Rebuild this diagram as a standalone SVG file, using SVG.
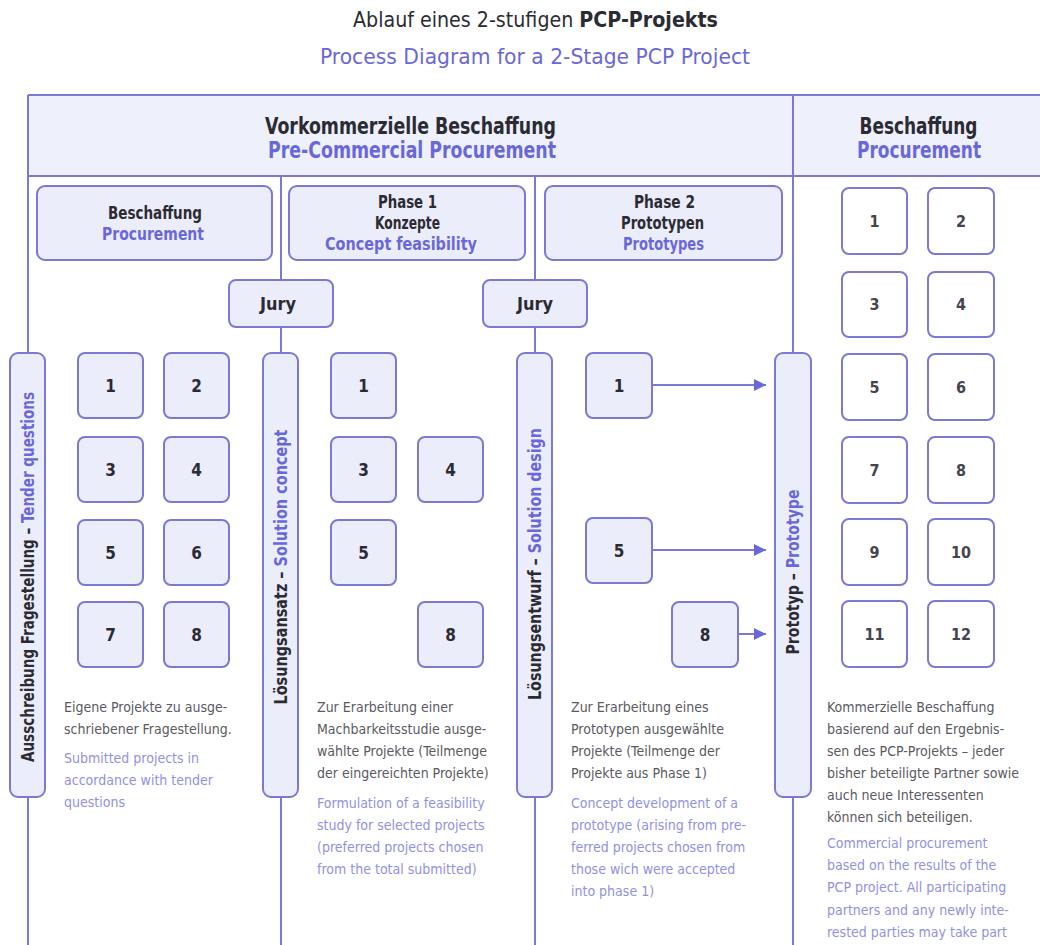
<svg xmlns="http://www.w3.org/2000/svg" width="1040" height="945" viewBox="0 0 1040 945">
<defs>
<style>
.h{font-family:"Liberation Sans Narrow","DejaVu Sans Condensed","Liberation Sans",sans-serif;font-weight:bold}
.n{font-weight:normal}
.dk{fill:#2b2b33}
.bl{fill:#6a68d8}
.box{fill:#ecedfa;stroke:#7b79d4;stroke-width:2}
.wbox{fill:#ffffff;stroke:#7b79d4;stroke-width:2}
.ln{stroke:#7b79d4;stroke-width:2;fill:none}
.num{font-family:"Liberation Sans Narrow","DejaVu Sans Condensed","Liberation Sans",sans-serif;font-weight:bold;font-size:17px;fill:#2b2b33;text-anchor:middle}
.wnum{font-family:"Liberation Sans Narrow","DejaVu Sans Condensed","Liberation Sans",sans-serif;font-weight:bold;font-size:16px;fill:#45454f;text-anchor:middle}
.c{text-anchor:middle}
.body{font-family:"Liberation Sans Narrow","DejaVu Sans Condensed","Liberation Sans",sans-serif;font-size:14px}
.g{fill:#5a5a62}
.lb{fill:#9291e2}
</style>
<marker id="ah" markerWidth="12" markerHeight="12" refX="12" refY="6" orient="auto" markerUnits="userSpaceOnUse">
<path d="M0,0 L12,6 L0,12 z" fill="#6a68d8"/>
</marker>
</defs>
<rect width="1040" height="945" fill="#ffffff"/>

<g id="title">
<text class="h dk c" x="535.5" y="27" font-size="21" textLength="365" lengthAdjust="spacingAndGlyphs"><tspan class="n">Ablauf eines 2-stufigen </tspan>PCP-Projekts</text>
<text class="h bl c n" x="535" y="64" font-size="21" textLength="430" lengthAdjust="spacingAndGlyphs">Process Diagram for a 2-Stage PCP Project</text>
</g>

<g id="header">
<rect x="28" y="95" width="1020" height="81" fill="#eef0fb"/>
<line class="ln" x1="28" y1="95" x2="1040" y2="95"/>
<line class="ln" x1="28" y1="176" x2="1040" y2="176"/>
<text class="h dk c" x="410.5" y="134" font-size="23" textLength="291" lengthAdjust="spacingAndGlyphs">Vorkommerzielle Beschaffung</text>
<text class="h bl c" x="412" y="158" font-size="23" textLength="288" lengthAdjust="spacingAndGlyphs">Pre-Commercial Procurement</text>
<text class="h dk c" x="918.5" y="134" font-size="23" textLength="118" lengthAdjust="spacingAndGlyphs">Beschaffung</text>
<text class="h bl c" x="919" y="158" font-size="23" textLength="124" lengthAdjust="spacingAndGlyphs">Procurement</text>
</g>

<g id="connectors">
<line class="ln" x1="28" y1="95" x2="28" y2="945"/>
<line class="ln" x1="281" y1="176" x2="281" y2="945"/>
<line class="ln" x1="535" y1="176" x2="535" y2="945"/>
<line class="ln" x1="793" y1="95" x2="793" y2="945"/>
<line class="ln" x1="652" y1="385" x2="766" y2="385" marker-end="url(#ah)"/>
<line class="ln" x1="652" y1="550" x2="766" y2="550" marker-end="url(#ah)"/>
<line class="ln" x1="738" y1="634" x2="766" y2="634" marker-end="url(#ah)"/>
</g>

<g id="phase-beschaffung">
<rect class="box" x="37" y="186" width="235" height="74" rx="8"/>
<text class="h dk c" x="155" y="219" font-size="18" textLength="94" lengthAdjust="spacingAndGlyphs">Beschaffung</text>
<text class="h bl c" x="153" y="240" font-size="18" textLength="102" lengthAdjust="spacingAndGlyphs">Procurement</text>
</g>
<g id="phase-1">
<rect class="box" x="289" y="186" width="236" height="74" rx="8"/>
<text class="h dk c" x="407.5" y="208" font-size="18" textLength="59" lengthAdjust="spacingAndGlyphs">Phase 1</text>
<text class="h dk c" x="407.5" y="229" font-size="18" textLength="65" lengthAdjust="spacingAndGlyphs">Konzepte</text>
<text class="h bl c" x="401" y="250" font-size="18" textLength="152" lengthAdjust="spacingAndGlyphs">Concept feasibility</text>
</g>
<g id="phase-2">
<rect class="box" x="545" y="186" width="237" height="74" rx="8"/>
<text class="h dk c" x="664.5" y="208" font-size="18" textLength="61" lengthAdjust="spacingAndGlyphs">Phase 2</text>
<text class="h dk c" x="662.5" y="229" font-size="18" textLength="83" lengthAdjust="spacingAndGlyphs">Prototypen</text>
<text class="h bl c" x="663.5" y="250" font-size="18" textLength="81" lengthAdjust="spacingAndGlyphs">Prototypes</text>
</g>

<g id="jury-1">
<rect class="box" x="229" y="280" width="104" height="47" rx="7"/>
<text class="h dk c" x="278" y="310" font-size="18" textLength="36" lengthAdjust="spacingAndGlyphs">Jury</text>
</g>
<g id="jury-2">
<rect class="box" x="483" y="280" width="104" height="47" rx="7"/>
<text class="h dk c" x="535" y="310" font-size="18" textLength="36" lengthAdjust="spacingAndGlyphs">Jury</text>
</g>

<g id="bar-ausschreibung">
<rect class="box" x="10" y="353" width="35" height="444" rx="8"/>
<text class="h dk c" transform="translate(27.5,577) rotate(-90)" y="6" font-size="18" textLength="370" lengthAdjust="spacingAndGlyphs">Ausschreibung Fragestellung – <tspan class="bl">Tender questions</tspan></text>
</g>
<g id="bar-loesungsansatz">
<rect class="box" x="263" y="353" width="35" height="444" rx="8"/>
<text class="h dk c" transform="translate(280.5,567) rotate(-90)" y="6" font-size="18" textLength="275" lengthAdjust="spacingAndGlyphs">Lösungsansatz – <tspan class="bl">Solution concept</tspan></text>
</g>
<g id="bar-loesungsentwurf">
<rect class="box" x="517" y="353" width="35" height="444" rx="8"/>
<text class="h dk c" transform="translate(534.5,564) rotate(-90)" y="6" font-size="18" textLength="272" lengthAdjust="spacingAndGlyphs">Lösungsentwurf – <tspan class="bl">Solution design</tspan></text>
</g>
<g id="bar-prototyp">
<rect class="box" x="775" y="353" width="36" height="444" rx="8"/>
<text class="h dk c" transform="translate(793,572) rotate(-90)" y="6" font-size="18" textLength="165" lengthAdjust="spacingAndGlyphs">Prototyp – <tspan class="bl">Prototype</tspan></text>
</g>

<g id="sub-1"><rect class="box" x="78" y="353" width="65" height="65" rx="7"/><text class="num" x="110.5" y="392">1</text></g>
<g id="sub-2"><rect class="box" x="164" y="353" width="65" height="65" rx="7"/><text class="num" x="196.5" y="392">2</text></g>
<g id="sub-3"><rect class="box" x="78" y="437" width="65" height="65" rx="7"/><text class="num" x="110.5" y="476">3</text></g>
<g id="sub-4"><rect class="box" x="164" y="437" width="65" height="65" rx="7"/><text class="num" x="196.5" y="476">4</text></g>
<g id="sub-5"><rect class="box" x="78" y="520" width="65" height="65" rx="7"/><text class="num" x="110.5" y="559">5</text></g>
<g id="sub-6"><rect class="box" x="164" y="520" width="65" height="65" rx="7"/><text class="num" x="196.5" y="559">6</text></g>
<g id="sub-7"><rect class="box" x="78" y="602" width="65" height="65" rx="7"/><text class="num" x="110.5" y="641">7</text></g>
<g id="sub-8"><rect class="box" x="164" y="602" width="65" height="65" rx="7"/><text class="num" x="196.5" y="641">8</text></g>

<g id="p1-1"><rect class="box" x="331" y="353" width="65" height="65" rx="7"/><text class="num" x="363.5" y="392">1</text></g>
<g id="p1-3"><rect class="box" x="331" y="437" width="65" height="65" rx="7"/><text class="num" x="363.5" y="476">3</text></g>
<g id="p1-4"><rect class="box" x="418" y="437" width="65" height="65" rx="7"/><text class="num" x="450.5" y="476">4</text></g>
<g id="p1-5"><rect class="box" x="331" y="520" width="65" height="65" rx="7"/><text class="num" x="363.5" y="559">5</text></g>
<g id="p1-8"><rect class="box" x="418" y="602" width="65" height="65" rx="7"/><text class="num" x="450.5" y="641">8</text></g>

<g id="p2-1"><rect class="box" x="586" y="353" width="66" height="65" rx="7"/><text class="num" x="619" y="392">1</text></g>
<g id="p2-5"><rect class="box" x="586" y="518" width="66" height="65" rx="7"/><text class="num" x="619" y="557">5</text></g>
<g id="p2-8"><rect class="box" x="672" y="602" width="66" height="65" rx="7"/><text class="num" x="705" y="641">8</text></g>

<g id="pr-1"><rect class="wbox" x="842" y="188" width="65" height="66" rx="7"/><text class="wnum" x="874.5" y="227">1</text></g>
<g id="pr-2"><rect class="wbox" x="928" y="188" width="66" height="66" rx="7"/><text class="wnum" x="961" y="227">2</text></g>
<g id="pr-3"><rect class="wbox" x="842" y="272" width="65" height="65" rx="7"/><text class="wnum" x="874.5" y="310">3</text></g>
<g id="pr-4"><rect class="wbox" x="928" y="272" width="66" height="65" rx="7"/><text class="wnum" x="961" y="310">4</text></g>
<g id="pr-5"><rect class="wbox" x="842" y="354" width="65" height="66" rx="7"/><text class="wnum" x="874.5" y="393">5</text></g>
<g id="pr-6"><rect class="wbox" x="928" y="354" width="66" height="66" rx="7"/><text class="wnum" x="961" y="393">6</text></g>
<g id="pr-7"><rect class="wbox" x="842" y="437" width="65" height="66" rx="7"/><text class="wnum" x="874.5" y="476">7</text></g>
<g id="pr-8"><rect class="wbox" x="928" y="437" width="66" height="66" rx="7"/><text class="wnum" x="961" y="476">8</text></g>
<g id="pr-9"><rect class="wbox" x="842" y="519" width="65" height="66" rx="7"/><text class="wnum" x="874.5" y="558">9</text></g>
<g id="pr-10"><rect class="wbox" x="928" y="519" width="66" height="66" rx="7"/><text class="wnum" x="961" y="558">10</text></g>
<g id="pr-11"><rect class="wbox" x="842" y="601" width="65" height="66" rx="7"/><text class="wnum" x="874.5" y="640">11</text></g>
<g id="pr-12"><rect class="wbox" x="928" y="601" width="66" height="66" rx="7"/><text class="wnum" x="961" y="640">12</text></g>

<g id="text-beschaffung" class="body">
<text class="g" x="64" y="712">Eigene Projekte zu ausge-</text>
<text class="g" x="64" y="734">schriebener Fragestellung.</text>
<text class="lb" x="64" y="763">Submitted projects in</text>
<text class="lb" x="64" y="785">accordance with tender</text>
<text class="lb" x="64" y="807">questions</text>
</g>
<g id="text-phase1" class="body">
<text class="g" x="317" y="712">Zur Erarbeitung einer</text>
<text class="g" x="317" y="734">Machbarkeitsstudie ausge-</text>
<text class="g" x="317" y="756">wählte Projekte (Teilmenge</text>
<text class="g" x="317" y="778">der eingereichten Projekte)</text>
<text class="lb" x="317" y="808">Formulation of a feasibility</text>
<text class="lb" x="317" y="830">study for selected projects</text>
<text class="lb" x="317" y="852">(preferred projects chosen</text>
<text class="lb" x="317" y="874">from the total submitted)</text>
</g>
<g id="text-phase2" class="body">
<text class="g" x="571" y="712">Zur Erarbeitung eines</text>
<text class="g" x="571" y="734">Prototypen ausgewählte</text>
<text class="g" x="571" y="756">Projekte (Teilmenge der</text>
<text class="g" x="571" y="778">Projekte aus Phase 1)</text>
<text class="lb" x="571" y="808">Concept development of a</text>
<text class="lb" x="571" y="830">prototype (arising from pre-</text>
<text class="lb" x="571" y="852">ferred projects chosen from</text>
<text class="lb" x="571" y="874">those wich were accepted</text>
<text class="lb" x="571" y="896">into phase 1)</text>
</g>
<g id="text-procurement" class="body">
<text class="g" x="827" y="712">Kommerzielle Beschaffung</text>
<text class="g" x="827" y="734">basierend auf den Ergebnis-</text>
<text class="g" x="827" y="756">sen des PCP-Projekts – jeder</text>
<text class="g" x="827" y="778">bisher beteiligte Partner sowie</text>
<text class="g" x="827" y="800">auch neue Interessenten</text>
<text class="g" x="827" y="822">können sich beteiligen.</text>
<text class="lb" x="827" y="848">Commercial procurement</text>
<text class="lb" x="827" y="870">based on the results of the</text>
<text class="lb" x="827" y="892">PCP project. All participating</text>
<text class="lb" x="827" y="915">partners and any newly inte-</text>
<text class="lb" x="827" y="937">rested parties may take part</text>
</g>
</svg>
